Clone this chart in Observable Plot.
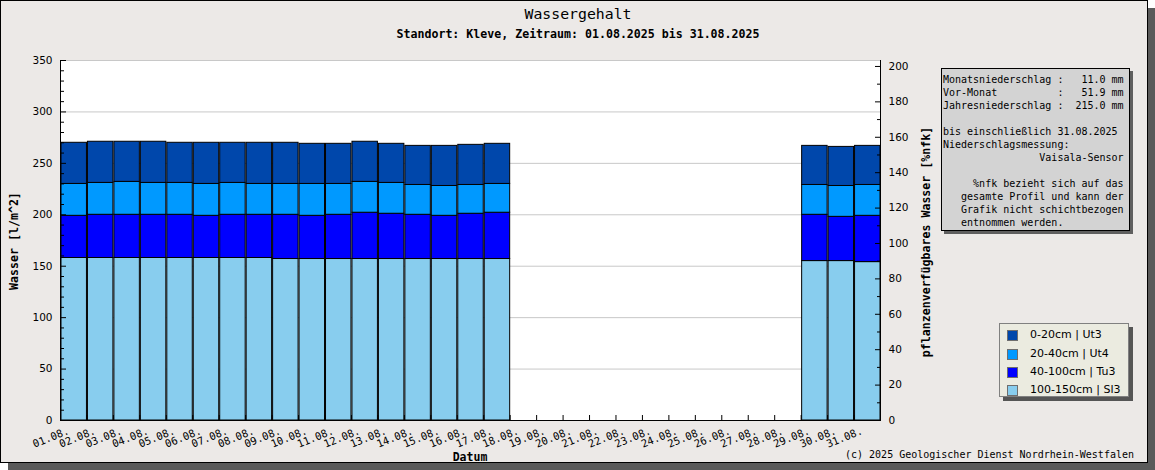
<!DOCTYPE html>
<html>
<head>
<meta charset="utf-8">
<script src="https://cdn.jsdelivr.net/npm/d3@7"></script>
<script src="https://cdn.jsdelivr.net/npm/@observablehq/plot@0.6"></script>
<style>
  body { margin: 0; background: #ffffff; }
  .abs { position: absolute; white-space: pre; color: #000; }
  .mono { font-family: "DejaVu Sans Mono", monospace; }
</style>
</head>
<body>
<div id="frame" class="abs" style="left:0;top:0;width:1146px;height:461px;border:1px solid #000;background:#ece9e7;box-shadow:8px 8px 0 #5a5a5a;"></div>
<div id="chart" class="abs" style="left:0;top:0;"></div>
<div id="texts"></div>
<script>
// ---------- data ----------
const days = [
  "2025-08-01","2025-08-02","2025-08-03","2025-08-04","2025-08-05","2025-08-06",
  "2025-08-07","2025-08-08","2025-08-09","2025-08-10","2025-08-11","2025-08-12",
  "2025-08-13","2025-08-14","2025-08-15","2025-08-16","2025-08-17",
  "2025-08-29","2025-08-30","2025-08-31"
];
// layers, bottom first
const layerNames = ["100-150cm | Sl3", "40-100cm | Tu3", "20-40cm | Ut4", "0-20cm | Ut3"];
const layerColors = ["#88cdee", "#0000ff", "#0099ff", "#0047ab"];
const sl3 = [158,158,158,158,158,158,158,158,157,157,157,157,157,157,157,157,157,155,155,154];
const tu3 = [41,42,42,42,42,41,42,42,43,42,43,45,44,43,42,44,45,45,43,45];
const ut4 = [31,31,32,31,31,31,31,30,30,31,30,30,30,29,29,28,28,29,30,30];
const ut3 = [40,40,39,40,39,40,39,40,40,39,39,39,38,38,39,39,39,38,38,38];
const layerValues = [sl3, tu3, ut4, ut3];

const leftMajor = [0,50,100,150,200,250,300,350];
const leftMinor = d3.range(10, 350, 10).filter(v => v % 50 !== 0);
const rightMajor = [0,20,40,60,80,100,120,140,160,180,200];
const rightMinor = d3.range(10, 200, 20);
const nfkFactor = 1.721; // l/m^2 per %nfk on the right axis

const infoLines = [
  "Monatsniederschlag :   11.0 mm",
  "Vor-Monat          :   51.9 mm",
  "Jahresniederschlag :  215.0 mm",
  "",
  "bis einschließlich 31.08.2025",
  "Niederschlagsmessung:",
  "                Vaisala-Sensor",
  "",
  "     %nfk bezieht sich auf das",
  "   gesamte Profil und kann der",
  "   Grafik nicht schichtbezogen",
  "   entnommen werden."
];

// legend order (top to bottom)
const legendNames = ["0-20cm | Ut3", "20-40cm | Ut4", "40-100cm | Tu3", "100-150cm | Sl3"];

// ---------- build ----------
const parse = d3.utcParse("%Y-%m-%d");
const rows = [];
days.forEach((d, i) => {
  layerNames.forEach((name, j) => {
    rows.push({date: parse(d), layer: name, value: layerValues[j][i]});
  });
});
const xStart = parse("2025-08-01"), xEnd = parse("2025-09-01");
const tickDates = d3.utcDay.range(xStart, xEnd);
const fmt = d3.utcFormat("%d.%m.");
const noText = () => "";

const chart = Plot.plot({
  width: 1155,
  height: 470,
  marginLeft: 60,
  marginRight: 275,
  marginTop: 60,
  marginBottom: 50,
  style: {background: "transparent", maxWidth: "none", overflow: "visible", fontFamily: "DejaVu Sans", fontSize: "10.5px", color: "#000"},
  x: {type: "utc", domain: [xStart, xEnd]},
  y: {domain: [0, 350]},
  color: {domain: layerNames, range: layerColors},
  marks: [
    Plot.frame({fill: "white", stroke: "none"}),
    Plot.gridY(leftMajor, {stroke: "#c8c8c8", strokeOpacity: 1}),
    Plot.rectY(rows, {x: "date", interval: d3.utcDay, y: "value", fill: "layer", stroke: "black", strokeWidth: 1}),
    Plot.ruleY([0], {stroke: "black"}),
    Plot.ruleX([xStart, xEnd], {stroke: "black"}),
    // left axis
    Plot.axisY(leftMajor, {anchor: "left", tickSize: 6, dx: 6, tickFormat: noText, label: null}),
    Plot.axisY(leftMinor, {anchor: "left", tickSize: 4, dx: 4, tickFormat: noText, label: null}),
    Plot.axisY(leftMajor, {anchor: "left", tickSize: 0, tickPadding: 8, label: null}),
    // right axis (%nfk)
    Plot.axisY(rightMajor.map(t => t * nfkFactor), {anchor: "right", tickSize: 6, dx: -6, tickFormat: noText, label: null}),
    Plot.axisY(rightMinor.map(t => t * nfkFactor), {anchor: "right", tickSize: 4, dx: -4, tickFormat: noText, label: null}),
    Plot.axisY(rightMajor.map(t => t * nfkFactor), {anchor: "right", tickSize: 0, tickPadding: 8, tickFormat: d => String(Math.round(d / nfkFactor)), label: null}),
    // x axis
    Plot.axisX(tickDates, {anchor: "bottom", tickSize: 5, dy: -5, tickFormat: noText, label: null}),
    Plot.axisX(tickDates, {anchor: "bottom", tickSize: 0, tickPadding: 10, dx: 8, tickRotate: -22, tickFormat: fmt, fontFamily: "DejaVu Sans Mono", fontSize: 10.5, label: null})
  ]
});
document.getElementById("chart").appendChild(chart);

// ---------- texts ----------
const T = document.getElementById("texts");
function add(html, style, cls = "abs mono") {
  const d = document.createElement("div");
  d.className = cls;
  d.setAttribute("style", style);
  d.textContent = html;
  T.appendChild(d);
  return d;
}
add("Wassergehalt", "left:278px;top:6px;width:600px;text-align:center;font-size:14.8px;line-height:16px;");
add("Standort: Kleve, Zeitraum: 01.08.2025 bis 31.08.2025", "left:278px;top:27px;width:600px;text-align:center;font-size:11.6px;line-height:14px;font-weight:bold;");
add("Datum", "left:420px;top:450px;width:100px;text-align:center;font-size:11.5px;line-height:14px;font-weight:bold;");
add("Wasser [l/m^2]", "left:-136px;top:234px;width:300px;text-align:center;font-size:11.6px;line-height:14px;font-weight:bold;transform:rotate(-90deg);transform-origin:50% 50%;");
add("pflanzenverfügbares Wasser [%nfk]", "left:776px;top:235px;width:300px;text-align:center;font-size:11.6px;line-height:14px;font-weight:bold;transform:rotate(-90deg);transform-origin:50% 50%;");
add("(c) 2025 Geologischer Dienst Nordrhein-Westfalen", "left:845px;top:448px;font-size:10px;line-height:14px;");

// info box
const info = document.createElement("div");
info.className = "abs mono";
info.setAttribute("style", "left:941px;top:68px;width:186px;height:157px;padding:4px 0 0 1px;border:1px solid #000;background:#d3d3d3;box-shadow:3px 3px 0 #5f5f5f;font-size:10px;line-height:13px;");
info.textContent = infoLines.join("\n");
T.appendChild(info);

// legend
const leg = document.createElement("div");
leg.className = "abs";
leg.setAttribute("style", "left:999px;top:323px;width:128px;height:72px;border:1px solid #808080;background:#ebebe0;box-shadow:4px 4px 0 #555;");
T.appendChild(leg);
legendNames.forEach((name, i) => {
  const c = layerColors[layerNames.indexOf(name)];
  const cy = 11.3 + i * 18.35;
  const sw = document.createElement("div");
  sw.className = "abs";
  sw.setAttribute("style", `left:7px;top:${cy - 5}px;width:9px;height:9px;border:1px solid #6e6e6e;background:${c};`);
  leg.appendChild(sw);
  const tx = document.createElement("div");
  tx.className = "abs";
  tx.setAttribute("style", `left:30px;top:${cy - 7}px;font-family:'DejaVu Sans';font-size:11px;line-height:14px;`);
  tx.textContent = name;
  leg.appendChild(tx);
});
</script>
</body>
</html>
